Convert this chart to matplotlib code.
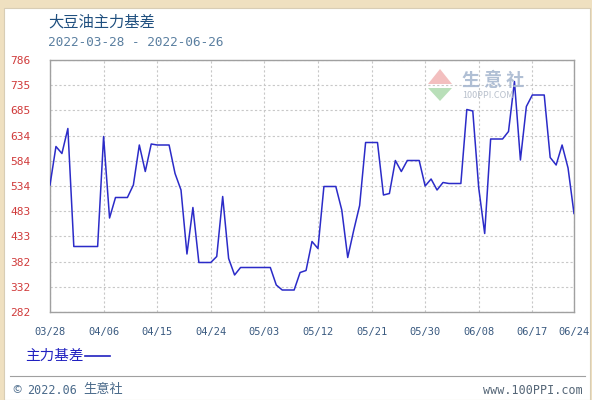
import numpy as np
import pandas as pd
import matplotlib
matplotlib.use('Agg')
import matplotlib.pyplot as plt
import matplotlib.dates as mdates
from matplotlib.patches import Rectangle, Polygon

plt.rcParams['font.family'] = ['Noto Sans CJK SC', 'DejaVu Sans']

''' data ==================================================================== '''
start_date = '2022-03-28'
basis = [536, 613, 599, 649, 413, 413, 413, 413, 413, 633,
         470, 511, 511, 511, 536, 616, 563, 618, 616, 616,
         616, 559, 526, 398, 491, 381, 381, 381, 393, 513,
         389, 356, 371, 371, 371, 371, 371, 371, 336, 326,
         326, 326, 361, 365, 423, 409, 533, 533, 533, 486,
         391, 445, 495, 621, 621, 621, 516, 519, 585, 563,
         585, 585, 585, 534, 548, 526, 541, 539, 539, 539,
         687, 684, 530, 439, 628, 628, 628, 643, 743, 586,
         693, 716, 716, 716, 591, 576, 616, 570, 479]
dates = pd.date_range(start_date, periods=len(basis), freq='D')

tick_dates = ['2022-03-28', '2022-04-06', '2022-04-15', '2022-04-24', '2022-05-03',
              '2022-05-12', '2022-05-21', '2022-05-30', '2022-06-08', '2022-06-17',
              '2022-06-24']
y_labels = ['282', '332', '382', '433', '483', '534', '584', '634', '685', '735', '786']

title = '大豆油主力基差'
subtitle = '2022-03-28 - 2022-06-26'
legend_text = '主力基差'

''' figure ================================================================== '''
W, H = 592, 400
mono = ['DejaVu Sans Mono']
f = plt.figure(figsize=(W/100, H/100), dpi=100)
f.patch.set_facecolor('#efe0c0')

def fx(x):
    return x / W

def fy(y):
    return 1 - y / H

# white panel, kept behind the axes
f.patches.append(Rectangle((fx(4), 0), fx(586), fy(8), transform=f.transFigure,
                           facecolor='white', edgecolor='#d8cdb5', linewidth=0.8,
                           zorder=-5))

p = f.add_axes([fx(50), fy(312), fx(524), (312 - 60) / H])
p.plot(dates, basis, color='#2b2bc8', linewidth=1.1, zorder=3)

p.set_xlim(dates[0], dates[-1])
p.set_ylim(282, 786)
p.set_yticks(np.linspace(282, 786, 11))
p.set_yticklabels(y_labels, family=mono)
p.set_xticks(pd.to_datetime(tick_dates))
p.xaxis.set_major_formatter(mdates.DateFormatter('%m/%d'))
for lab in p.get_xticklabels():
    lab.set_family(mono)

p.grid(True, color='#c8c8c8', linestyle=(0, (2, 2)), linewidth=0.8)
p.set_axisbelow(True)
for s in p.spines.values():
    s.set_color('#a0a0a0')
    s.set_linewidth(1.0)
p.tick_params(axis='both', length=0)
p.tick_params(axis='y', pad=14, labelsize=8, labelcolor='#d03a3a')
p.tick_params(axis='x', pad=11, labelsize=7.5, labelcolor='#3a5a80')

# watermark
f.patches.append(Polygon([[fx(428), fy(84)], [fx(440), fy(69)], [fx(452), fy(84)]],
                         closed=True, transform=f.transFigure,
                         facecolor='#f0b0b0', edgecolor='none', alpha=0.8))
f.patches.append(Polygon([[fx(428), fy(88)], [fx(440), fy(101)], [fx(452), fy(88)]],
                         closed=True, transform=f.transFigure,
                         facecolor='#a8d8a8', edgecolor='none', alpha=0.8))
f.text(fx(462), fy(80), '生 意 社', fontsize=13, color='#a8b8d0', va='center', ha='left',
       fontweight='bold', alpha=0.9)
f.text(fx(462), fy(96), '100PPI.COM', fontsize=6.5, color='#b8c0cc', va='center', ha='left')

# titles
f.text(fx(48), fy(22), title, fontsize=11, color='#1f4f7f', va='center', ha='left')
f.text(fx(48), fy(43), subtitle, fontsize=9.2, color='#5a7fa0', va='center', ha='left',
       family=mono)

# legend
f.text(fx(25), fy(356), legend_text, fontsize=10.5, color='#2020c0', va='center', ha='left')
f.add_artist(plt.Line2D([fx(85), fx(110)], [fy(356), fy(356)], transform=f.transFigure,
                        color='#2020c0', linewidth=1.2))

# footer
f.add_artist(plt.Line2D([fx(10), fx(585)], [fy(376), fy(376)], transform=f.transFigure,
                        color='#a0a0a0', linewidth=0.8))
f.text(fx(12), fy(390), '\u00a9', fontsize=8, color='#4a6a8a', va='center', ha='left')
f.text(fx(27), fy(390), '2022.06', fontsize=8.5, color='#4a6a8a', va='center', ha='left',
       family=mono)
f.text(fx(83), fy(390), '生意社', fontsize=9.5, color='#4a6a8a', va='center', ha='left')
f.text(fx(583), fy(390), 'www.100PPI.com', fontsize=8.5, color='#556677',
       va='center', ha='right', family=mono)

f.savefig('out.png', dpi=100, facecolor=f.get_facecolor())
